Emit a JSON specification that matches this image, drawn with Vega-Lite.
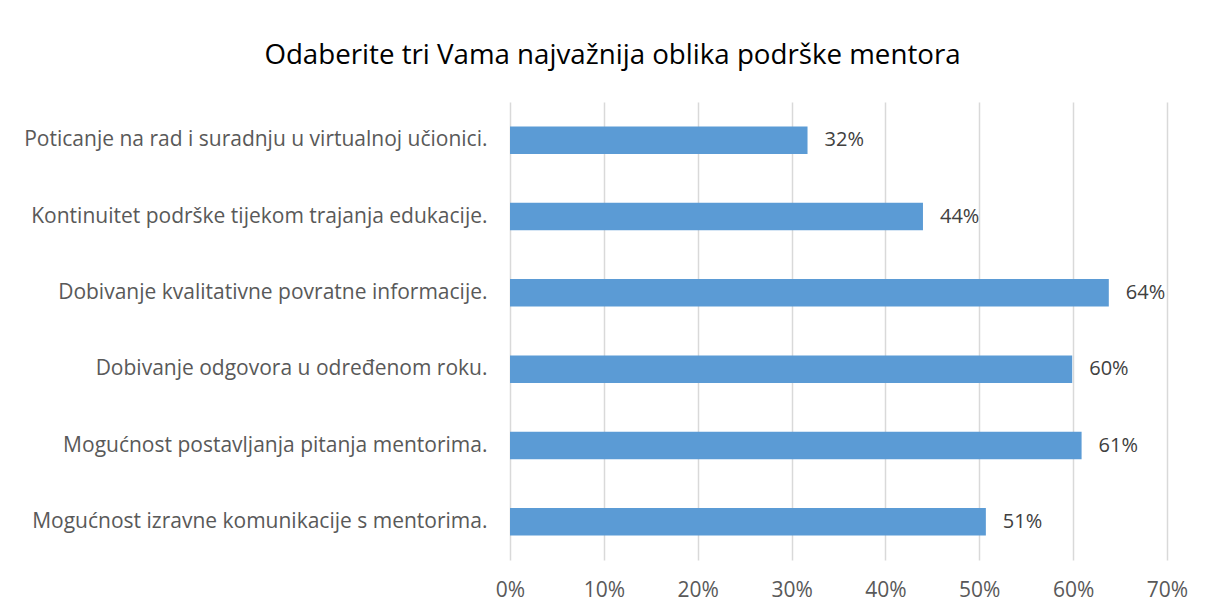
{
  "$schema": "https://vega.github.io/schema/vega-lite/v6.json",
  "width": 657,
  "height": 458,
  "autosize": "none",
  "padding": {"left": 510, "top": 102, "right": 39, "bottom": 54},
  "background": "white",
  "title": {
    "text": "Odaberite tri Vama najvažnija oblika podrške mentora",
    "font": "Open Sans",
    "fontSize": 27.7,
    "fontWeight": "normal",
    "color": "#000000",
    "anchor": "middle",
    "dx": -226,
    "offset": 32
  },
  "data": {
    "values": [
      {"oblik": "Poticanje na rad i suradnju u virtualnoj učionici.", "udio": 0.317},
      {"oblik": "Kontinuitet podrške tijekom trajanja edukacije.", "udio": 0.440},
      {"oblik": "Dobivanje kvalitativne povratne informacije.", "udio": 0.638},
      {"oblik": "Dobivanje odgovora u određenom roku.", "udio": 0.599},
      {"oblik": "Mogućnost postavljanja pitanja mentorima.", "udio": 0.609},
      {"oblik": "Mogućnost izravne komunikacije s mentorima.", "udio": 0.507}
    ]
  },
  "config": {
    "view": {"stroke": null},
    "font": "Open Sans",
    "axis": {
      "labelFont": "Open Sans",
      "labelColor": "#595959",
      "labelFontSize": 21,
      "domain": false,
      "ticks": false,
      "title": null
    }
  },
  "encoding": {
    "y": {
      "field": "oblik",
      "type": "nominal",
      "sort": null,
      "scale": {"paddingInner": 0.64, "paddingOuter": 0.32},
      "axis": {"labelPadding": 23, "labelLimit": 600, "grid": false}
    },
    "x": {
      "field": "udio",
      "type": "quantitative",
      "scale": {"domain": [0, 0.7], "nice": false},
      "axis": {
        "format": ".0%",
        "values": [0, 0.1, 0.2, 0.3, 0.4, 0.5, 0.6, 0.7],
        "grid": true,
        "gridColor": "#D9D9D9",
        "gridWidth": 1.5,
        "labelFlush": false,
        "labelPadding": 19
      }
    }
  },
  "layer": [
    {"mark": {"type": "bar", "color": "#5B9BD5"}},
    {
      "mark": {"type": "text", "align": "left", "dx": 17, "fontSize": 20, "color": "#404040", "font": "Open Sans"},
      "encoding": {"text": {"field": "udio", "type": "quantitative", "format": ".0%"}}
    }
  ]
}
